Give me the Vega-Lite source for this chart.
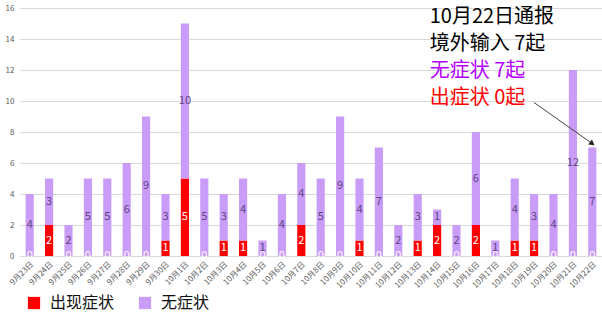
{
  "$schema": "https://vega.github.io/schema/vega-lite/v6.json",
  "width": 582,
  "height": 248,
  "autosize": "none",
  "padding": {"left": 20, "top": 8, "right": 0, "bottom": 65},
  "background": "white",
  "config": {"font": "Noto Sans CJK SC", "view": {"stroke": null}},
  "datasets": {
    "cases": [
      {"date": "9月23日", "type": "出现症状", "n": 0}, {"date": "9月23日", "type": "无症状", "n": 4},
      {"date": "9月24日", "type": "出现症状", "n": 2}, {"date": "9月24日", "type": "无症状", "n": 3},
      {"date": "9月25日", "type": "出现症状", "n": 0}, {"date": "9月25日", "type": "无症状", "n": 2},
      {"date": "9月26日", "type": "出现症状", "n": 0}, {"date": "9月26日", "type": "无症状", "n": 5},
      {"date": "9月27日", "type": "出现症状", "n": 0}, {"date": "9月27日", "type": "无症状", "n": 5},
      {"date": "9月28日", "type": "出现症状", "n": 0}, {"date": "9月28日", "type": "无症状", "n": 6},
      {"date": "9月29日", "type": "出现症状", "n": 0}, {"date": "9月29日", "type": "无症状", "n": 9},
      {"date": "9月30日", "type": "出现症状", "n": 1}, {"date": "9月30日", "type": "无症状", "n": 3},
      {"date": "10月1日", "type": "出现症状", "n": 5}, {"date": "10月1日", "type": "无症状", "n": 10},
      {"date": "10月2日", "type": "出现症状", "n": 0}, {"date": "10月2日", "type": "无症状", "n": 5},
      {"date": "10月3日", "type": "出现症状", "n": 1}, {"date": "10月3日", "type": "无症状", "n": 3},
      {"date": "10月4日", "type": "出现症状", "n": 1}, {"date": "10月4日", "type": "无症状", "n": 4},
      {"date": "10月5日", "type": "出现症状", "n": 0}, {"date": "10月5日", "type": "无症状", "n": 1},
      {"date": "10月6日", "type": "出现症状", "n": 0}, {"date": "10月6日", "type": "无症状", "n": 4},
      {"date": "10月7日", "type": "出现症状", "n": 2}, {"date": "10月7日", "type": "无症状", "n": 4},
      {"date": "10月8日", "type": "出现症状", "n": 0}, {"date": "10月8日", "type": "无症状", "n": 5},
      {"date": "10月9日", "type": "出现症状", "n": 0}, {"date": "10月9日", "type": "无症状", "n": 9},
      {"date": "10月10日", "type": "出现症状", "n": 1}, {"date": "10月10日", "type": "无症状", "n": 4},
      {"date": "10月11日", "type": "出现症状", "n": 0}, {"date": "10月11日", "type": "无症状", "n": 7},
      {"date": "10月12日", "type": "出现症状", "n": 0}, {"date": "10月12日", "type": "无症状", "n": 2},
      {"date": "10月13日", "type": "出现症状", "n": 1}, {"date": "10月13日", "type": "无症状", "n": 3},
      {"date": "10月14日", "type": "出现症状", "n": 2}, {"date": "10月14日", "type": "无症状", "n": 1},
      {"date": "10月15日", "type": "出现症状", "n": 0}, {"date": "10月15日", "type": "无症状", "n": 2},
      {"date": "10月16日", "type": "出现症状", "n": 2}, {"date": "10月16日", "type": "无症状", "n": 6},
      {"date": "10月17日", "type": "出现症状", "n": 0}, {"date": "10月17日", "type": "无症状", "n": 1},
      {"date": "10月18日", "type": "出现症状", "n": 1}, {"date": "10月18日", "type": "无症状", "n": 4},
      {"date": "10月19日", "type": "出现症状", "n": 1}, {"date": "10月19日", "type": "无症状", "n": 3},
      {"date": "10月20日", "type": "出现症状", "n": 0}, {"date": "10月20日", "type": "无症状", "n": 4},
      {"date": "10月21日", "type": "出现症状", "n": 0}, {"date": "10月21日", "type": "无症状", "n": 12},
      {"date": "10月22日", "type": "出现症状", "n": 0}, {"date": "10月22日", "type": "无症状", "n": 7}
    ],
    "notes": [
      {"date": "10月13日", "y": 15.42, "label": "10月22日通报", "c": "black"},
      {"date": "10月13日", "y": 13.68, "label": "境外输入 7起", "c": "black"},
      {"date": "10月13日", "y": 11.94, "label": "无症状 7起", "c": "purple"},
      {"date": "10月13日", "y": 10.19, "label": "出症状 0起", "c": "red"}
    ],
    "arrow": [
      {"date": "10月19日", "y": 9.9, "date2": "10月22日", "y2": 7.25}
    ]
  },
  "layer": [
    {
      "data": {"name": "cases"},
      "transform": [
        {"calculate": "datum.type === '出现症状' ? 0 : 1", "as": "ord"},
        {"stack": "n", "groupby": ["date"], "sort": [{"field": "ord"}], "as": ["lo", "hi"]},
        {"calculate": "(datum.lo + datum.hi) / 2", "as": "mid"}
      ],
      "layer": [
        {
          "mark": {"type": "bar"},
          "encoding": {
            "x": {"field": "date", "type": "nominal"},
            "y": {"field": "lo", "type": "quantitative"},
            "y2": {"field": "hi"},
            "color": {
              "field": "type", "type": "nominal",
              "scale": {"domain": ["出现症状", "无症状"], "range": ["#ff0000", "#c99cf7"]},
              "legend": {
                "title": null, "orient": "none", "direction": "horizontal",
                "legendX": 6, "legendY": 287,
                "symbolType": "square", "symbolSize": 150, "symbolStrokeWidth": 0,
                "labelFontSize": 16, "labelColor": "#111111", "labelFont": "Noto Sans CJK SC",
                "columnPadding": 22, "symbolOffset": 0, "labelOffset": 8
              }
            }
          }
        },
        {
          "mark": {"type": "text", "fontSize": 11, "baseline": "middle", "align": "center"},
          "encoding": {
            "x": {"field": "date", "type": "nominal"},
            "y": {"field": "mid", "type": "quantitative"},
            "text": {"field": "n", "type": "quantitative"},
            "color": {"condition": {"test": "datum.type === '出现症状'", "value": "#ffffff"}, "value": "#5a4480"}
          }
        }
      ]
    },
    {
      "data": {"name": "arrow"},
      "layer": [
        {
          "mark": {"type": "rule", "color": "#444444", "strokeWidth": 1},
          "encoding": {
            "x": {"field": "date", "type": "nominal"},
            "y": {"field": "y", "type": "quantitative"},
            "x2": {"field": "date2"},
            "y2": {"field": "y2"}
          }
        },
        {
          "mark": {"type": "point", "shape": "triangle-right", "filled": true, "color": "#222222", "size": 40, "angle": 36, "opacity": 1},
          "encoding": {
            "x": {"field": "date2", "type": "nominal"},
            "y": {"field": "y2", "type": "quantitative"}
          }
        }
      ]
    },
    {
      "data": {"name": "notes"},
      "mark": {"type": "text", "align": "left", "baseline": "middle", "fontSize": 20, "dx": 12, "font": "Noto Sans CJK SC"},
      "encoding": {
        "x": {"field": "date", "type": "nominal"},
        "y": {"field": "y", "type": "quantitative"},
        "text": {"field": "label"},
        "color": {
          "field": "c", "type": "nominal", "legend": null,
          "scale": {"domain": ["black", "purple", "red"], "range": ["#000000", "#b300ff", "#ff0000"]}
        }
      }
    }
  ],
  "resolve": {"scale": {"color": "independent"}},
  "encoding": {
    "x": {
      "field": "date", "type": "nominal",
      "scale": {
        "domain": ["9月23日","9月24日","9月25日","9月26日","9月27日","9月28日","9月29日","9月30日","10月1日","10月2日","10月3日","10月4日","10月5日","10月6日","10月7日","10月8日","10月9日","10月10日","10月11日","10月12日","10月13日","10月14日","10月15日","10月16日","10月17日","10月18日","10月19日","10月20日","10月21日","10月22日"],
        "paddingInner": 0.58, "paddingOuter": 0.29
      },
      "axis": {
        "title": null, "labelAngle": -45, "labelFontSize": 8, "labelColor": "#595959",
        "ticks": false, "domainColor": "#d9d9d9", "labelPadding": 4
      }
    },
    "y": {
      "type": "quantitative",
      "scale": {"domain": [0, 16], "nice": false},
      "axis": {
        "title": null, "values": [0, 2, 4, 6, 8, 10, 12, 14, 16], "labelFontSize": 8, "labelColor": "#595959",
        "ticks": false, "domain": false, "gridColor": "#d9d9d9", "labelPadding": 6
      }
    }
  }
}
